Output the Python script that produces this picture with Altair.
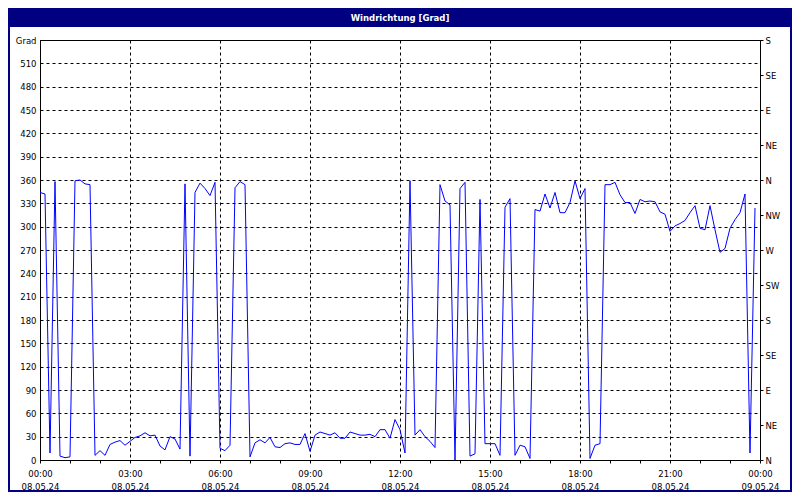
import altair as alt
import pandas as pd

# Wind direction readings, every 10 minutes from 08.05.24 00:00
values = [344, 342, 9, 358, 5, 3, 4, 359, 360, 355, 354, 6, 12, 6, 20, 23, 25, 19, 24, 29,
          31, 35, 31, 32, 18, 13, 30, 27, 14, 355, 5, 344, 356, 349, 340, 357, 15, 12, 19, 350,
          358, 354, 4, 22, 26, 22, 29, 17, 16, 21, 22, 20, 20, 34, 11, 32, 36, 34, 32, 35,
          28, 28, 36, 34, 32, 32, 33, 30, 39, 39, 28, 52, 39, 9, 359, 32, 39, 30, 24, 16,
          354, 333, 328, 0, 349, 357, 5, 8, 335, 21, 21, 21, 6, 325, 336, 6, 19, 17, 2, 322,
          320, 342, 324, 344, 318, 318, 331, 359, 336, 349, 2, 19, 21, 354, 354, 357, 341, 331, 331, 317,
          335, 332, 333, 332, 319, 316, 294, 301, 304, 308, 318, 327, 298, 296, 327, 296, 267, 272, 298, 309,
          318, 342, 9, 324]
step_minutes = 10
minutes = [i * step_minutes for i in range(len(values))]

time_labels = ["00:00", "03:00", "06:00", "09:00", "12:00", "15:00", "18:00", "21:00", "00:00"]
date_labels = ["08.05.24"] * 8 + ["09.05.24"]
direction_labels = ["N", "NE", "E", "SE", "S", "SW", "W", "NW", "N", "NE", "E", "SE", "S"]
title_text = "Windrichtung [Grad]"

df = pd.DataFrame({"minute": minutes, "value": values})

FONT = "DejaVu Sans"
FS = 8.5

t_arr = "[" + ",".join(f"'{t}'" for t in time_labels) + "]"
d_arr = "[" + ",".join(f"'{d}'" for d in date_labels) + "]"
dir_arr = "[" + ",".join(f"'{d}'" for d in direction_labels) + "]"

x_enc = alt.X(
    "minute:Q",
    scale=alt.Scale(domain=[0, 1440], nice=False, zero=False),
    axis=alt.Axis(
        values=list(range(0, 1441, 60)),
        labelExpr=f"datum.value % 180 == 0 ? [{t_arr}[datum.value/180], {d_arr}[datum.value/180]] : ''",
        labelLineHeight=13,
        labelPadding=6,
        tickSize=3,
        ticks=True,
        grid=True,
        gridOpacity={"condition": {"test": "datum.value % 180 == 0", "value": 1}, "value": 0},
        title=None,
        labelFlush=False,
        labelOverlap=False,
    ),
)

yscale = alt.Scale(domain=[0, 540], nice=False, zero=False)

line = alt.Chart(df).mark_line(color="#0000FF", strokeWidth=1, clip=True).encode(
    x=x_enc,
    y=alt.Y(
        "value:Q",
        scale=yscale,
        axis=alt.Axis(
            values=list(range(0, 541, 30)),
            labelExpr="datum.value == 540 ? 'Grad' : datum.label",
            ticks=False,
            labelPadding=4,
            grid=True,
            title=None,
            labelFlush=False,
            labelOverlap=False,
        ),
    ),
)

right = alt.Chart(df).mark_line(opacity=0).encode(
    x=x_enc,
    y=alt.Y(
        "value:Q",
        scale=yscale,
        axis=alt.Axis(
            orient="right",
            values=list(range(0, 541, 45)),
            labelExpr=f"{dir_arr}[round(datum.value/45)]",
            ticks=True,
            tickSize=3,
            labelPadding=2,
            grid=False,
            title=None,
            labelFlush=False,
            labelOverlap=False,
        ),
    ),
)

one = alt.Data(values=[{}])

bar = alt.Chart(one).mark_rect(color="#000080").encode(
    x=alt.value(-32), x2=alt.value(752), y=alt.value(-32), y2=alt.value(-13)
)
title = alt.Chart(one).mark_text(
    text=title_text, color="white", font=FONT, fontSize=FS, fontWeight="bold",
    align="center", baseline="middle"
).encode(x=alt.value(360), y=alt.value(-22))
border = alt.Chart(one).mark_rect(filled=False, stroke="#000080", strokeWidth=2).encode(
    x=alt.value(-31), x2=alt.value(751), y=alt.value(-31), y2=alt.value(451)
)

chart = (
    alt.layer(bar, title, border, line, right)
    .resolve_scale(y="independent")
    .properties(
        width=720,
        height=420,
        autosize=alt.AutoSizeParams(type="none"),
        padding={"left": 32, "top": 32, "right": 32, "bottom": 32},
        background="white",
    )
    .configure_view(stroke="black", strokeWidth=1)
    .configure_axis(
        labelFont=FONT,
        labelFontSize=FS,
        labelColor="black",
        domainColor="black",
        domainWidth=1,
        tickColor="black",
        gridColor="black",
        gridDash=[3, 3],
        gridWidth=1,
    )
)

chart.save("out.html", embed_options={"renderer": "svg", "actions": False})
